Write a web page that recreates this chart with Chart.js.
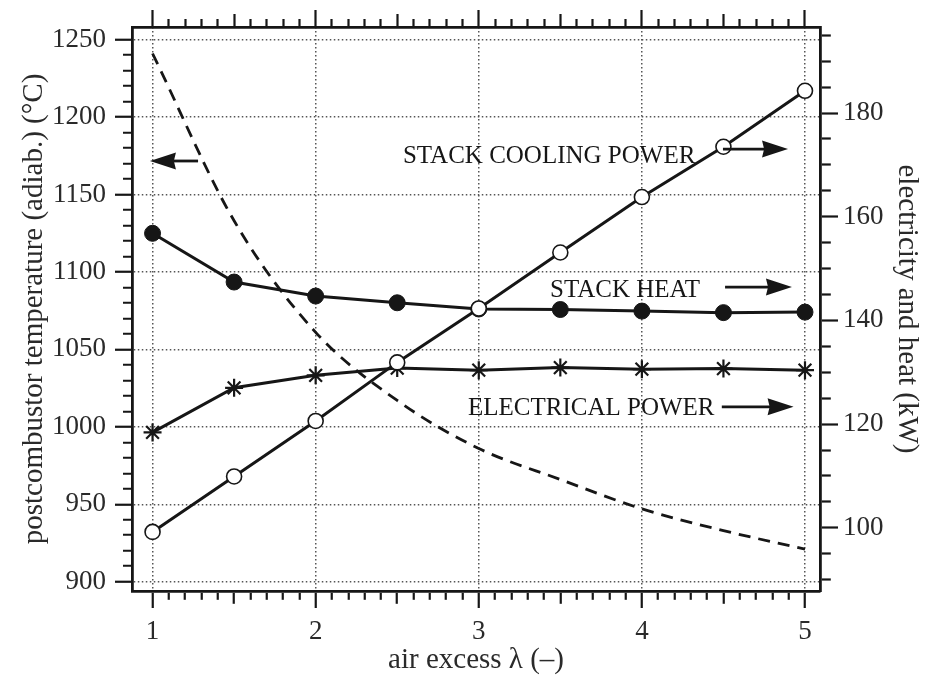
<!DOCTYPE html>
<html><head><meta charset="utf-8">
<script src="https://cdn.jsdelivr.net/npm/chart.js@4/dist/chart.umd.min.js"></script>
<style>html,body{margin:0;padding:0;background:#fff;}</style>
</head><body>
<canvas id="c" width="929" height="682"></canvas>
<script>
// ---- data ----
const airExcess = [1, 1.5, 2, 2.5, 3, 3.5, 4, 4.5, 5];
const postcombustorTemp = [1241, 1133, 1061, 1017, 986, 966, 947, 933, 921];   // left axis (°C)
const stackCoolingPower = [99.2, 109.9, 120.6, 131.9, 142.3, 153.1, 163.8, 173.5, 184.3]; // right axis (kW)
const stackHeat = [156.8, 147.4, 144.7, 143.4, 142.2, 142.1, 141.8, 141.5, 141.6];
const electricalPower = [118.4, 127.0, 129.4, 130.8, 130.4, 130.9, 130.6, 130.7, 130.4];

const xTickLabels = [1, 2, 3, 4, 5];
const xHalfTicks = [1.5, 2.5, 3.5, 4.5];
const leftTickLabels = [900, 950, 1000, 1050, 1100, 1150, 1200, 1250];
const rightTickLabels = [100, 120, 140, 160, 180];

const xLabel = 'air excess \u03bb (\u2013)';
const leftLabel = 'postcombustor temperature (adiab.) (\u00b0C)';
const rightLabel = 'electricity and heat (kW)';

const annotationTexts = [
  { text: 'STACK COOLING POWER', x: 2.535, y: 1170.3 },
  { text: 'STACK HEAT', x: 3.437, y: 1083.8 },
  { text: 'ELECTRICAL POWER', x: 2.934, y: 1007.6 }
];
const annotationArrows = [
  { from: 4.497, to: 4.896, y: 1179.3 },
  { from: 4.51, to: 4.92, y: 1090.2 },
  { from: 4.49, to: 4.93, y: 1012.9 },
  { from: 1.279, to: 0.984, y: 1171.6 }
];

// ---- helpers ----
function range(a, b, s) { const out = []; const n = Math.round((b - a) / s); for (let i = 0; i <= n; i++) out.push(+(a + i * s).toFixed(6)); return out; }
const near = (v, arr) => arr.some(a => Math.abs(a - v) < 1e-6);
const xMinorTicks = range(1, 5, 0.1);
const leftMinorTicks = range(900, 1250, 10);
const rightMinorTicks = range(90, 195, 5);

const FONT = "'Liberation Serif', 'DejaVu Serif', serif";
const TXT = '#2a2a2a';
const INK = '#161616';
const GRID = '#555555';
const TL = 17;

function tickDash(majors, mids, minorLen, midLen, fromOuter) {
  return (ctx) => {
    if (!ctx.tick) return [];
    const v = ctx.tick.value;
    if (near(v, majors)) return [];
    const d = (mids && near(v, mids)) ? midLen : minorLen;
    return fromOuter ? [0, TL - 1 - d, d, 200] : [d, 200];
  };
}
function gridColor(majors) {
  return (ctx) => (ctx.tick && near(ctx.tick.value, majors)) ? GRID : 'rgba(0,0,0,0)';
}
function setTicks(vals) { return (axis) => { axis.ticks = vals.map(v => ({ value: v })); }; }
function labelOnly(majors) { return (v) => near(v, majors) ? String(Math.round(v)) : ''; }

const xMin = 0.874, xMax = 5.092;
const yMin = 894, yMax = 1258.1;
const y2Min = 87.8, y2Max = 196.6;

const pts = (ys) => airExcess.map((x, i) => ({ x, y: ys[i] }));

const annotationPlugin = {
  id: 'annotations',
  afterDatasetsDraw(chart) {
    const ctx = chart.ctx, sx = chart.scales.x, sy = chart.scales.y;
    ctx.save();
    ctx.fillStyle = INK;
    ctx.font = '25px ' + FONT;
    ctx.textBaseline = 'alphabetic';
    ctx.textAlign = 'left';
    annotationTexts.forEach(a => ctx.fillText(a.text, sx.getPixelForValue(a.x), sy.getPixelForValue(a.y)));
    ctx.strokeStyle = INK;
    ctx.lineWidth = 2.8;
    annotationArrows.forEach(a => {
      const x0 = sx.getPixelForValue(a.from), x1 = sx.getPixelForValue(a.to), y = sy.getPixelForValue(a.y);
      const dir = Math.sign(x1 - x0), head = 26, hw = 8.5;
      ctx.beginPath(); ctx.moveTo(x0, y); ctx.lineTo(x1 - dir * head * 0.9, y); ctx.stroke();
      ctx.beginPath(); ctx.moveTo(x1, y); ctx.lineTo(x1 - dir * head, y - hw); ctx.lineTo(x1 - dir * head * 0.92, y); ctx.lineTo(x1 - dir * head, y + hw); ctx.closePath(); ctx.fill();
    });
    ctx.restore();
  }
};

new Chart(document.getElementById('c'), {
  type: 'line',
  data: {
    datasets: [
      { label: 'postcombustor temperature', data: pts(postcombustorTemp), yAxisID: 'y', xAxisID: 'x',
        borderColor: INK, borderWidth: 2.8, borderDash: [12, 8], pointRadius: 0, cubicInterpolationMode: 'monotone', fill: false },
      { label: 'stack cooling power', data: pts(stackCoolingPower), yAxisID: 'y2', xAxisID: 'x',
        borderColor: INK, borderWidth: 3, pointStyle: 'circle', pointRadius: 7.5, pointBorderWidth: 1.6,
        pointBackgroundColor: '#fff', pointBorderColor: INK, tension: 0 },
      { label: 'electrical power', data: pts(electricalPower), yAxisID: 'y2', xAxisID: 'x',
        borderColor: INK, borderWidth: 3, pointStyle: 'star', pointRadius: 9, pointBorderWidth: 2.2,
        pointBorderColor: INK, pointBackgroundColor: INK, tension: 0 },
      { label: 'stack heat', data: pts(stackHeat), yAxisID: 'y2', xAxisID: 'x',
        borderColor: INK, borderWidth: 3, pointStyle: 'circle', pointRadius: 8, pointBorderWidth: 1,
        pointBackgroundColor: INK, pointBorderColor: INK, tension: 0 }
    ]
  },
  options: {
    responsive: false,
    animation: false,
    devicePixelRatio: 1,
    layout: { padding: 0 },
    plugins: { legend: { display: false }, tooltip: { enabled: false } },
    scales: {
      x: {
        type: 'linear', position: 'bottom', min: xMin, max: xMax,
        afterBuildTicks: setTicks(xMinorTicks),
        afterFit: (s) => { s.height = 91; },
        ticks: { autoSkip: false, maxRotation: 0, callback: labelOnly(xTickLabels), color: TXT, font: { family: FONT, size: 27 }, padding: 8 },
        grid: { color: gridColor(xTickLabels), lineWidth: 1.5, tickLength: TL, tickColor: INK, tickWidth: 2.2,
                tickBorderDash: tickDash(xTickLabels, xHalfTicks, 7, 11, false) },
        border: { display: true, color: INK, width: 2.8, dash: [1.5, 2.5] },
        title: { display: true, text: xLabel, color: TXT, font: { family: FONT, size: 29 }, padding: { top: 0, bottom: 4 } }
      },
      xTop: {
        type: 'linear', position: 'top', min: xMin, max: xMax,
        afterBuildTicks: setTicks(xMinorTicks),
        afterFit: (s) => { s.height = 27; },
        ticks: { display: false, autoSkip: false },
        grid: { drawOnChartArea: false, tickLength: TL, tickColor: INK, tickWidth: 2.2, color: INK,
                tickBorderDash: tickDash(xTickLabels, xHalfTicks, 7, 12, true) },
        border: { display: true, color: INK, width: 2.8 }
      },
      y: {
        type: 'linear', position: 'left', min: yMin, max: yMax,
        afterBuildTicks: setTicks(leftMinorTicks),
        afterFit: (s) => { s.width = 132; },
        ticks: { autoSkip: false, callback: labelOnly(leftTickLabels), color: TXT, font: { family: FONT, size: 27 }, padding: 9 },
        grid: { color: gridColor(leftTickLabels), lineWidth: 1.5, tickLength: TL, tickColor: INK, tickWidth: 2.2,
                tickBorderDash: tickDash(leftTickLabels, null, 8, 8, true) },
        border: { display: true, color: INK, width: 2.8, dash: [1.5, 2.5] },
        title: { display: true, text: leftLabel, color: TXT, font: { family: FONT, size: 29 }, padding: { top: 17, bottom: 0 } }
      },
      y2: {
        type: 'linear', position: 'right', min: y2Min, max: y2Max,
        afterBuildTicks: setTicks(rightMinorTicks),
        afterFit: (s) => { s.width = 109; },
        ticks: { autoSkip: false, callback: labelOnly(rightTickLabels), color: TXT, font: { family: FONT, size: 27 }, padding: 5 },
        grid: { drawOnChartArea: false, color: INK, tickLength: TL + 1, tickColor: INK, tickWidth: 2.2,
                tickBorderDash: tickDash(rightTickLabels, null, 9, 9, false) },
        border: { display: true, color: INK, width: 2.8 },
        title: { display: true, text: rightLabel, color: TXT, font: { family: FONT, size: 29 }, padding: { top: 5, bottom: 0 } }
      }
    }
  },
  plugins: [annotationPlugin]
});
</script>
</body></html>
